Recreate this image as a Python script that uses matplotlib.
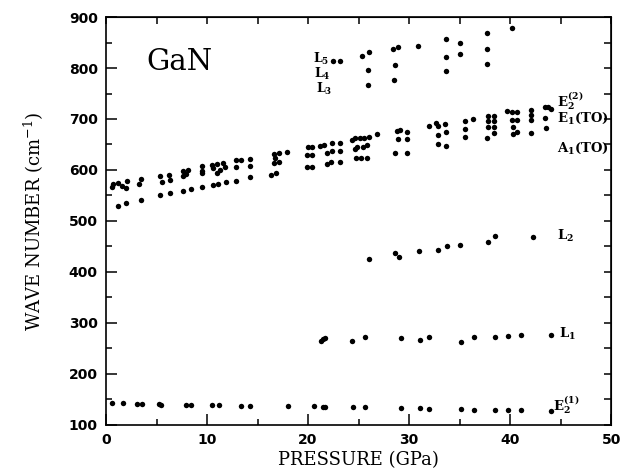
import numpy as np
import matplotlib
matplotlib.use("Agg")
import matplotlib.pyplot as plt

plt.rcParams['mathtext.fontset'] = 'dejavuserif'

# ---- data (pressure in GPa, wave number in cm^-1) ----
e2_low_p = [0.6, 1.7, 3.1, 3.6, 5.2, 5.45, 7.9, 8.4, 10.5, 11.2, 13.4, 14.3, 18.0, 20.6,
            21.45, 21.7, 24.5, 25.6, 29.2, 31.1, 31.95, 35.1, 36.4, 38.5, 39.8, 41.1, 44.1]
e2_low_v = [142.5, 142.5, 141, 141, 140.5, 140, 140, 140, 140, 138.6, 137.9, 137.9, 136.6, 136.6,
            136, 136, 135, 134.6, 132.7, 133.3, 132, 130.7, 128.8, 129.4, 128.8, 129.4, 128]

l1_p = [21.3, 21.5, 21.7, 24.4, 25.6, 29.2, 31.1, 31.95, 35.1, 36.4, 38.5, 39.8, 41.1, 44.1]
l1_v = [264, 268, 270.6, 265, 273, 270.6, 266.7, 272.5, 263, 273, 272.5, 274.5, 276.5, 276.5]

l2_p = [26.0, 28.6, 29.0, 31.0, 32.9, 33.8, 35.0, 37.85, 38.5, 42.25]
l2_v = [425, 436.6, 430, 441, 443, 451, 452, 458, 471, 469]

a1_p = [1.2, 2.0, 3.45, 5.35, 6.3, 7.6, 8.4, 9.5, 10.6, 11.1, 11.85, 12.9, 14.3, 16.3, 16.8,
        19.9, 20.4, 21.85, 22.3, 23.2, 24.75, 25.2, 25.8, 28.6, 29.8, 32.9, 33.7, 35.5,
        37.7, 38.4, 40.3, 40.7, 42.1, 43.6]
a1_v = [529.4, 535.5, 541.5, 550.5, 555.5, 559.4, 562, 567.5, 570.6, 572.5, 576, 578, 587, 590, 595,
        605.3, 605.3, 611, 615, 615, 623, 623, 624, 634, 634, 650, 647.6, 664,
        663, 672, 670, 675, 673, 683]

e1_p = [0.6, 1.6, 2.0, 3.3, 5.5, 6.3, 7.65, 7.9, 9.47, 9.47, 10.6, 11.0, 11.3, 11.8, 12.9, 14.3,
        16.6, 17.1, 19.9, 20.4, 21.85, 22.4, 23.2, 24.65, 24.8, 25.4, 25.8, 28.9, 29.8,
        32.9, 33.7, 35.5, 37.85, 38.4, 37.85, 38.4, 40.2, 40.7, 40.3, 42.1, 42.1, 43.5]
e1_v = [567, 569, 565.5, 572.5, 577, 580, 588, 593, 594, 599, 603, 595, 600, 606.5, 606, 608,
        613, 616.3, 629.4, 629.4, 634, 638, 638, 640.6, 645.7, 645.7, 649, 660, 660,
        668.6, 675, 680, 696, 696, 685, 685, 699, 698, 685, 707.8, 698, 701]

e2_high_p = [0.7, 1.2, 2.1, 3.5, 5.35, 6.2, 7.65, 8.15, 9.47, 10.5, 11.0, 11.6, 12.9, 13.4, 14.3,
             16.6, 17.1, 16.7, 17.95, 19.97, 20.4, 21.2, 21.6, 22.4, 23.2, 24.4, 24.65, 25.1,
             25.5, 26.0, 26.8, 28.8, 29.1, 29.8, 32.0, 32.7, 32.9, 33.6, 35.5, 36.3,
             37.85, 38.4, 39.7, 40.2, 40.7, 42.1, 43.5, 43.8, 44.1]
e2_high_v = [572, 575, 578, 582, 588, 590, 598, 600, 608, 610, 612, 614.4, 620, 620, 621,
             631, 634, 623, 634.6, 645.7, 645.7, 647.6, 649, 653.6, 653.6, 659, 662, 662,
             663, 665, 670, 676.5, 678, 675, 686, 691.5, 686, 690, 696.6, 700,
             706, 706, 715.7, 714.4, 714.4, 717.6, 724, 724, 719.6]

l345_p = [22.5, 23.2, 25.3, 26.0, 25.9, 25.9, 28.4, 28.9, 28.6, 28.5, 30.9,
          33.7, 35.0, 33.7, 35.0, 33.7, 37.7, 37.7, 37.7, 40.2]
l345_v = [814, 814, 823, 830.7, 796, 766, 837, 841, 806, 776.5, 843,
          857, 850, 822, 827, 794, 869, 837, 807, 878]

fig = plt.figure(figsize=(6.21, 4.75), dpi=100)
ax = fig.add_axes([0.1707, 0.1053, 0.8133, 0.8589])

ms = 3.9
for p, v in [(e2_low_p, e2_low_v), (l1_p, l1_v), (l2_p, l2_v), (a1_p, a1_v),
             (e1_p, e1_v), (e2_high_p, e2_high_v), (l345_p, l345_v)]:
    ax.plot(p, v, 'o', color='black', ms=ms, mew=0, linestyle='none')

ax.set_xlim(0, 50)
ax.set_ylim(100, 900)
ax.set_xticks(np.arange(0, 51, 10))
ax.set_xticks(np.arange(0, 51, 5), minor=True)
ax.set_yticks(np.arange(100, 901, 100))
ax.set_yticks(np.arange(100, 901, 50), minor=True)
ax.tick_params(which='major', direction='in', length=8, width=1.1, pad=6)
ax.tick_params(which='minor', direction='in', length=4.5, width=1.1)
for lab in ax.get_xticklabels() + ax.get_yticklabels():
    lab.set_fontweight('bold')
    lab.set_fontsize(10)
for s in ax.spines.values():
    s.set_linewidth(1.2)

secx = ax.secondary_xaxis('top')
secx.set_xticks(np.arange(0, 51, 5))
secx.tick_params(direction='in', length=5, width=1.1, labeltop=False)
secy = ax.secondary_yaxis('right')
secy.set_yticks(np.arange(100, 901, 50))
secy.tick_params(direction='in', length=5, width=1.1, labelright=False)

ax.set_xlabel('PRESSURE (GPa)', family='DejaVu Serif', fontsize=13, labelpad=3)
ax.set_ylabel(r'WAVE NUMBER (cm$^{-1}$)', family='DejaVu Serif', fontsize=13, labelpad=16)

ax.text(7.3, 812, 'GaN', family='DejaVu Serif', fontsize=21, ha='center', va='center')

lab_kw = dict(fontsize=9.5, va='center', ha='left')
ax.text(20.5, 817, r'$\mathbf{L_5}$', fontsize=9, va='center', ha='left')
ax.text(20.6, 788, r'$\mathbf{L_4}$', fontsize=9, va='center', ha='left')
ax.text(20.8, 759, r'$\mathbf{L_3}$', fontsize=9, va='center', ha='left')
ax.text(44.6, 735, r'$\mathbf{E_2^{(2)}}$', **lab_kw)
ax.text(44.6, 702, r'$\mathbf{E_1(TO)}$', **lab_kw)
ax.text(44.6, 643, r'$\mathbf{A_1(TO)}$', **lab_kw)
ax.text(44.6, 471, r'$\mathbf{L_2}$', **lab_kw)
ax.text(44.8, 278, r'$\mathbf{L_1}$', **lab_kw)
ax.text(44.3, 140, r'$\mathbf{E_2^{(1)}}$', **lab_kw)

fig.savefig('out.png', dpi=100)
